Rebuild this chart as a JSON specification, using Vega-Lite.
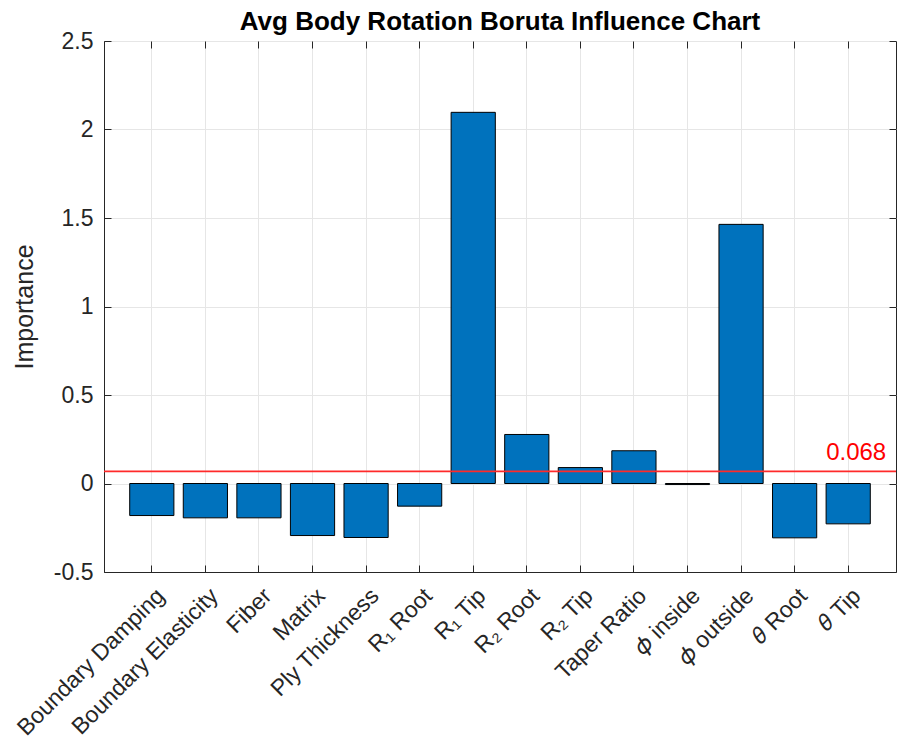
{
  "$schema": "https://vega.github.io/schema/vega-lite/v6.json",
  "width": 792,
  "height": 531,
  "autosize": {"type": "none"},
  "padding": {"left": 104, "top": 41, "right": 4, "bottom": 179},
  "background": "#ffffff",
  "title": {
    "text": "Avg Body Rotation Boruta Influence Chart",
    "font": "Liberation Sans",
    "fontSize": 26,
    "fontWeight": "bold",
    "color": "#000000",
    "anchor": "middle",
    "offset": -5
  },
  "config": {
    "view": {"stroke": "#262626", "strokeWidth": 1},
    "axis": {
      "labelFont": "Liberation Sans",
      "labelFontSize": 23,
      "labelColor": "#262626",
      "titleFont": "Liberation Sans",
      "titleFontSize": 25,
      "titleFontWeight": "normal",
      "titleColor": "#262626",
      "domainColor": "#262626",
      "tickColor": "#262626",
      "gridColor": "#e6e6e6",
      "gridWidth": 1
    }
  },
  "datasets": {
    "bars": [
      {"feature": "Boundary Damping", "importance": -0.181},
      {"feature": "Boundary Elasticity", "importance": -0.194},
      {"feature": "Fiber", "importance": -0.194},
      {"feature": "Matrix", "importance": -0.294},
      {"feature": "Ply Thickness", "importance": -0.305},
      {"feature": "R₁ Root", "importance": -0.128},
      {"feature": "R₁ Tip", "importance": 2.097},
      {"feature": "R₂ Root", "importance": 0.277},
      {"feature": "R₂ Tip", "importance": 0.09},
      {"feature": "Taper Ratio", "importance": 0.185},
      {"feature": "𝜙 inside", "importance": -0.006},
      {"feature": "𝜙 outside", "importance": 1.464},
      {"feature": "𝜃 Root", "importance": -0.307},
      {"feature": "𝜃 Tip", "importance": -0.228}
    ],
    "threshold": [{"threshold": 0.068, "label": "0.068", "anchor": "𝜃 Tip"}]
  },
  "resolve": {"axis": {"x": "independent", "y": "independent"}},
  "layer": [
    {
      "data": {"name": "bars"},
      "mark": {"type": "bar", "color": "#0072BD", "stroke": "#000000", "strokeWidth": 1},
      "encoding": {
        "x": {
          "field": "feature",
          "type": "nominal",
          "sort": null,
          "scale": {"paddingInner": 0.175, "paddingOuter": 0.48},
          "axis": {
            "orient": "bottom",
            "title": null,
            "labelAngle": -45,
            "labelAlign": "right",
            "labelBaseline": "middle",
            "labelPadding": 27,
            "labelOffset": 9,
            "tickSize": -7,
            "domain": true,
            "grid": true,
            "labelLimit": 400
          }
        },
        "y": {
          "field": "importance",
          "type": "quantitative",
          "scale": {"domain": [-0.5, 2.5], "nice": false, "zero": false},
          "axis": {
            "orient": "left",
            "title": "Importance",
            "values": [-0.5, 0, 0.5, 1, 1.5, 2, 2.5],
            "format": "~g",
            "labelExpr": "replace(datum.label, '−', '-')",
            "tickSize": -7,
            "labelPadding": 18,
            "titlePadding": 16,
            "grid": true
          }
        }
      }
    },
    {
      "data": {"name": "bars"},
      "mark": {"type": "tick", "opacity": 0},
      "encoding": {
        "x": {
          "field": "feature",
          "type": "nominal",
          "sort": null,
          "axis": {"orient": "top", "title": null, "labels": false, "domain": false, "grid": false, "tickSize": -7}
        },
        "y": {
          "field": "importance",
          "type": "quantitative",
          "axis": {"orient": "right", "title": null, "labels": false, "domain": false, "grid": false, "tickSize": -7, "values": [-0.5, 0, 0.5, 1, 1.5, 2, 2.5]}
        }
      }
    },
    {
      "mark": {"type": "rule", "stroke": "#262626", "strokeWidth": 1},
      "encoding": {"y": {"datum": 0, "type": "quantitative", "axis": null}}
    },
    {
      "data": {"name": "threshold"},
      "mark": {"type": "rule", "stroke": "#ff2a2a", "strokeWidth": 1.7},
      "encoding": {"y": {"field": "threshold", "type": "quantitative", "axis": null}}
    },
    {
      "data": {"name": "threshold"},
      "mark": {"type": "text", "color": "#ff0000", "font": "Liberation Sans", "fontSize": 24, "align": "right", "baseline": "alphabetic", "dx": 38, "dy": -11},
      "encoding": {
        "x": {"field": "anchor", "type": "nominal", "sort": null, "axis": null},
        "y": {"field": "threshold", "type": "quantitative", "axis": null},
        "text": {"field": "label"}
      }
    }
  ]
}
